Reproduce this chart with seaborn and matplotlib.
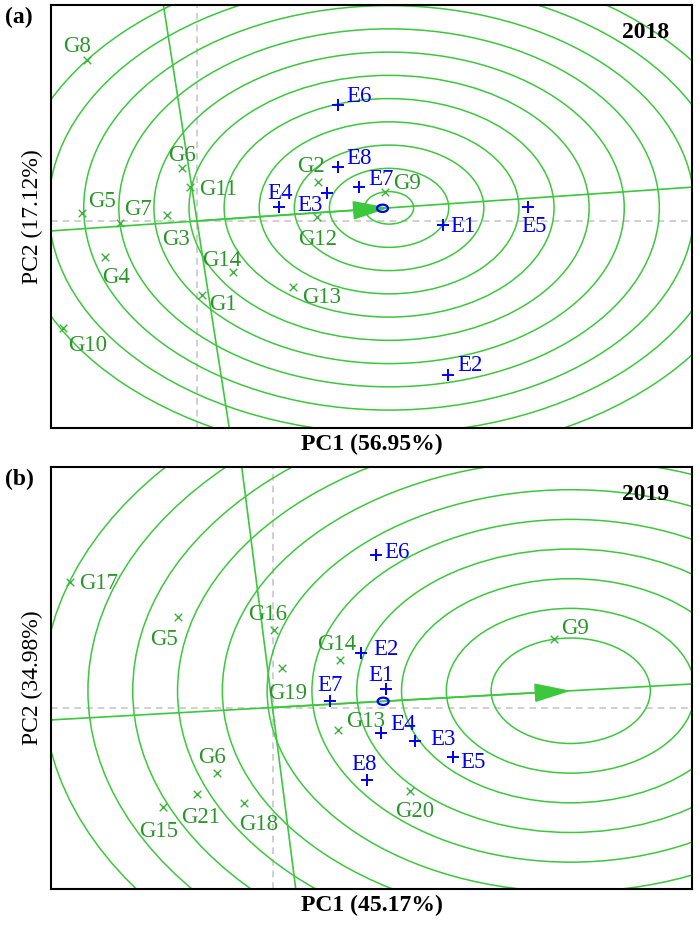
import numpy as np
import pandas as pd
import seaborn as sns
import matplotlib.pyplot as plt
from matplotlib.patches import Circle

# 2018 GGE biplot scores
gen_2018 = ['G1', 'G2', 'G3', 'G4', 'G5', 'G6', 'G7', 'G8', 'G9', 'G10', 'G11', 'G12', 'G13', 'G14']
gen_2018_pc1 = [0.05, 1.21, -0.30, -0.92, -1.15, -0.15, -0.77, -1.10, 1.88, -1.34, -0.07, 1.20, 0.96, 0.36]
gen_2018_pc2 = [-1.12, 0.59, 0.09, -0.54, 0.12, 0.80, -0.03, 2.43, 0.44, -1.62, 0.51, 0.06, -1.00, -0.77]
env_2018 = ['E1', 'E2', 'E3', 'E4', 'E5', 'E6', 'E7', 'E8']
env_2018_pc1 = [2.46, 2.51, 1.30, 0.82, 3.31, 1.41, 1.62, 1.41]
env_2018_pc2 = [-0.06, -2.33, 0.42, 0.21, 0.21, 1.75, 0.51, 0.82]

# 2019 GGE biplot scores
gen_2019 = ['G5', 'G6', 'G9', 'G13', 'G14', 'G15', 'G16', 'G17', 'G18', 'G19', 'G20', 'G21']
gen_2019_pc1 = [-0.95, -0.56, 2.81, 0.65, 0.67, -1.10, 0.01, -2.03, -0.29, 0.09, 1.37, -0.76]
gen_2019_pc2 = [1.37, -0.99, 1.03, -0.34, 0.72, -1.50, 1.17, 1.90, -1.44, 0.60, -1.26, -1.31]
env_2019 = ['E1', 'E2', 'E3', 'E4', 'E5', 'E6', 'E7', 'E8']
env_2019_pc1 = [1.13, 0.88, 1.42, 1.08, 1.80, 1.03, 0.57, 0.94]
env_2019_pc2 = [0.28, 0.82, -0.51, -0.39, -0.75, 2.30, 0.10, -1.10]

var_2018 = (56.95, 17.12)
var_2019 = (45.17, 34.98)

# label offsets in pixels (dx, dy) from each marker
off_2018 = {'G1': (21, -7), 'G2': (-7, 18), 'G3': (9, -22), 'G4': (11, -18), 'G5': (20, 14),
            'G6': (0, 15), 'G7': (18, 16), 'G8': (-10, 16), 'G9': (22, 11), 'G10': (25, -15),
            'G11': (28, 0), 'G12': (1, -20), 'G13': (29, -8), 'G14': (-11, 14),
            'E1': (20, 1), 'E2': (22, 12), 'E3': (-17, -10), 'E4': (1, 16), 'E5': (6, -17),
            'E6': (21, 11), 'E7': (22, 10), 'E8': (21, 11)}
off_2019 = {'G5': (-14, -20), 'G6': (-5, 18), 'G9': (22, 13), 'G13': (28, 11), 'G14': (-3, 18),
            'G15': (-4, -22), 'G16': (-6, 18), 'G17': (29, 1), 'G18': (15, -19), 'G19': (6, -23),
            'G20': (5, -18), 'G21': (4, -21),
            'E1': (-5, 16), 'E2': (25, 6), 'E3': (28, 4), 'E4': (23, 11), 'E5': (20, -3),
            'E6': (21, 5), 'E7': (0, 18), 'E8': (-2, 18)}

sns.set_style('white')
plt.rcParams['font.family'] = ['Liberation Serif', 'DejaVu Serif']
plt.rcParams['text.color'] = 'black'
plt.rcParams['axes.labelcolor'] = 'black'

LINE = '#3CC83C'
GTXT = '#2A962A'
GMRK = '#3CB43C'
BLUE = '#0000EE'


def draw_panel(ax, gen, gx, gy, env, ex, ey, var, offs, xlim, ylim, year, tag):
    gdf = pd.DataFrame({'name': gen, 'PC1': gx, 'PC2': gy})
    edf = pd.DataFrame({'name': env, 'PC1': ex, 'PC2': ey})
    g = gdf[['PC1', 'PC2']].to_numpy()

    # average environment axis and ideal genotype
    ae = edf[['PC1', 'PC2']].mean().to_numpy()
    u = ae / np.linalg.norm(ae)
    lens = np.linalg.norm(g, axis=1)
    ideal = lens[g @ u > 0].max() * u
    d = np.linalg.norm(g - ideal, axis=1)
    for r in np.linspace(d.min(), d.max(), 11):
        ax.add_patch(Circle(ideal, r, fill=False, color=LINE, lw=1.1, zorder=1))

    ax.axline((0, 0), ae, color=LINE, lw=1.2, zorder=2)
    ax.axline((0, 0), (-ae[1], ae[0]), color=LINE, lw=1.2, zorder=2)
    ax.axhline(0, color='#C8C8C8', lw=1.2, ls=(0, (4, 3)), zorder=0)
    ax.axvline(0, color='#C8C8C8', lw=1.2, ls=(0, (4, 3)), zorder=0)

    ax.annotate('', xy=ideal, xytext=(0, 0),
                arrowprops=dict(arrowstyle='-|>,head_length=23,head_width=6', mutation_scale=1,
                                color=LINE, lw=1.2, shrinkA=0, shrinkB=0), zorder=3)

    sns.scatterplot(data=gdf, x='PC1', y='PC2', marker='x', color=GMRK, s=30, linewidth=1.0,
                    ax=ax, zorder=4)
    sns.scatterplot(data=edf, x='PC1', y='PC2', marker='+', color=BLUE, s=80, linewidth=1.4,
                    ax=ax, zorder=4)
    ax.add_patch(Circle(ae, 0.055, fill=False, color=BLUE, lw=1.6, zorder=5))

    for df, col in ((gdf, GTXT), (edf, BLUE)):
        for _, row in df.iterrows():
            ax.annotate(row['name'], (row['PC1'], row['PC2']), xytext=offs[row['name']],
                        textcoords='offset pixels', ha='center', va='center_baseline',
                        fontsize=16.5, color=col, zorder=6)

    ax.set_xlim(*xlim)
    ax.set_ylim(*ylim)
    ax.set_xticks([])
    ax.set_yticks([])
    ax.set_xlabel(f'PC1 ({var[0]:.2f}%)', fontsize=17, fontweight='bold', labelpad=4)
    ax.set_ylabel(f'PC2 ({var[1]:.2f}%)', fontsize=17, labelpad=6)
    ax.text(0.965, 0.935, year, transform=ax.transAxes, ha='right', va='center',
            fontsize=17, fontweight='bold')
    ax.text(-0.05, 0.97, tag, transform=ax.transAxes, ha='center', va='center',
            fontsize=17, fontweight='bold')
    for s in ax.spines.values():
        s.set_color('black')
        s.set_linewidth(1.5)


fig = plt.figure(figsize=(7, 9.31), dpi=100)
ax1 = fig.add_axes([0.0729, 0.5403, 0.9157, 0.4544])
ax2 = fig.add_axes([0.0729, 0.0451, 0.9157, 0.4533])

draw_panel(ax1, gen_2018, gen_2018_pc1, gen_2018_pc2, env_2018, env_2018_pc1, env_2018_pc2,
           var_2018, off_2018, (-1.46, 4.95), (-3.126, 3.262), '2018', '(a)')
draw_panel(ax2, gen_2019, gen_2019_pc1, gen_2019_pc2, env_2019, env_2019_pc1, env_2019_pc2,
           var_2019, off_2019, (-2.215, 4.195), (-2.741, 3.632), '2019', '(b)')

fig.savefig('out.png', dpi=100)
